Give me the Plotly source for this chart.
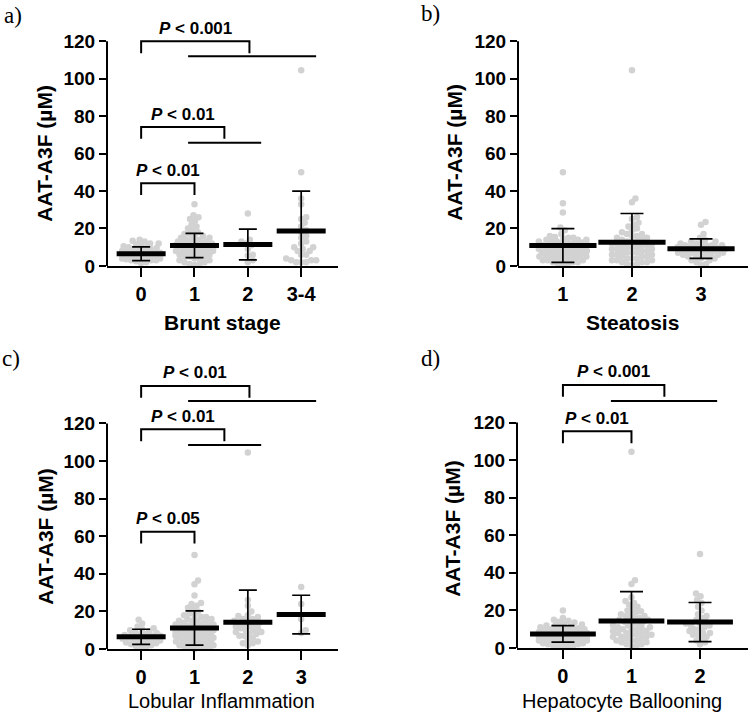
import plotly.graph_objects as go

# ---------------- data ----------------
A_CATS = ["0", "1", "2", "3-4"]
A_G0 = [1.5, 2, 2.5, 3, 3, 3.5, 4, 4, 4.5, 5, 5, 5, 5.5, 5.5, 6, 6, 6, 6.5, 6.5, 7, 7, 7, 7.5, 8, 8,
        8.5, 9, 9, 9.5, 10, 10, 10.5, 11, 11.5, 12, 12, 13, 13.5, 14, 4, 3, 6]
A_G1 = [33, 27, 26, 25, 24, 22, 21, 20, 19, 18, 17, 17, 16, 16, 15, 15, 14, 14, 14, 13, 13, 13, 12, 12,
        12, 12, 11, 11, 11, 11, 10, 10, 10, 10, 9, 9, 9, 9, 8, 8, 8, 8, 7, 7, 7, 6, 6, 6, 5, 5, 5, 4, 4,
        3, 3, 2, 2, 1, 1, 0.5]
A_G2 = [28, 14, 13, 12, 11, 9, 6, 5.5, 3, 2]
A_G3 = [104.5, 50, 36, 33, 26, 25, 23, 21, 19, 18, 16, 15, 13, 12, 10, 10, 9, 8, 8, 6, 6, 4, 3, 3, 3,
        2, 2, 2]
A_MEANS = [6.5, 10.9, 11.4, 18.6]
A_SD = [3.7, 6.5, 8.2, 21.4]

B_CATS = ["1", "2", "3"]
B_G1 = [50, 33.5, 28.5, 20.5, 19, 17, 16, 15, 15, 14, 14, 14, 13, 13, 13, 12, 12, 12, 12, 11, 11, 11,
        11, 10, 10, 10, 10, 10, 9, 9, 9, 9, 8, 8, 8, 8, 7, 7, 7, 7, 6, 6, 6, 6, 5, 5, 5, 5, 4, 4, 4, 4,
        3, 3, 3, 3, 2, 2, 2, 1, 1, 1, 15.5, 14.5, 12.5, 11.5, 9.5, 8.5, 6.5, 5.5]
B_G2 = [104.5, 36, 34, 26, 25, 23, 22, 21, 20, 19, 18, 17, 17, 16, 16, 15, 15, 14, 14, 13, 13, 13, 12,
        12, 12, 11, 11, 11, 10, 10, 10, 9, 9, 9, 8, 8, 8, 7, 7, 7, 6, 6, 6, 5, 5, 5, 4, 4, 4, 3, 3, 3,
        2, 2, 2, 1, 1, 0.5]
B_G3 = [23.5, 22, 17, 15, 14, 13, 13, 12, 12, 12, 11, 11, 11, 11, 10, 10, 10, 10, 10, 9, 9, 9, 9, 9,
        8, 8, 8, 8, 7, 7, 7, 7, 6, 6, 6, 5, 5, 5, 4, 4, 3, 3, 2, 1, 0.5]
B_MEANS = [10.9, 12.6, 9.2]
B_SD = [9.0, 15.4, 5.2]

C_CATS = ["0", "1", "2", "3"]
C_G0 = [15.5, 13.5, 12, 11, 10.5, 10, 9.5, 9, 8.5, 8, 8, 7.5, 7, 7, 7, 6.5, 6.5, 6, 6, 6, 5.5, 5.5, 5,
        5, 4.5, 4, 4, 3.5, 3, 3, 2.5, 2, 1.5, 1, 0.5]
C_G1 = [50, 36.5, 34.5, 28.5, 24.5, 24, 23, 22, 21, 20, 19, 18, 18, 17, 17, 16, 16, 15, 15, 15, 14, 14,
        14, 13, 13, 13, 13, 12, 12, 12, 12, 11, 11, 11, 11, 10, 10, 10, 10, 10, 9, 9, 9, 9, 8, 8, 8, 8,
        8, 7, 7, 7, 7, 6, 6, 6, 6, 5, 5, 5, 5, 4, 4, 4, 4, 3, 3, 3, 3, 2, 2, 2, 1, 1, 1, 0.5, 0.5, 0,
        12.5, 9.5]
C_G2 = [104.5, 26, 23, 20, 18, 17.5, 17, 16, 16, 15, 15, 14, 14, 13, 13, 12, 12, 11, 11, 10, 10, 9, 9,
        8, 8, 7, 7, 6, 5, 4, 3, 3, 2]
C_G3 = [33, 24, 16, 10, 8.5]
C_MEANS = [6.5, 11.2, 14.2, 18.3]
C_SD = [4.0, 9.1, 17.1, 10.3]

D_CATS = ["0", "1", "2"]
D_G0 = [20, 16, 15, 14.5, 14, 13.5, 13, 12.5, 12, 12, 11.5, 11, 11, 10.5, 10.5, 10, 10, 10, 9.5, 9.5,
        9, 9, 9, 8.5, 8.5, 8, 8, 8, 8, 7.5, 7.5, 7.5, 7, 7, 7, 7, 6.5, 6.5, 6.5, 6, 6, 6, 6, 5.5, 5.5,
        5.5, 5, 5, 5, 5, 4.5, 4.5, 4, 4, 4, 3.5, 3.5, 3, 3, 3, 2.5, 2.5, 2, 2, 1.5, 1, 1, 0.5, 0.5]
D_G1 = [104.5, 36, 34, 27, 25, 24, 23, 22, 21, 20, 19.5, 19, 18, 18, 17, 17, 16, 16, 15, 15, 15, 14,
        14, 13, 13, 12, 12, 11, 11, 11, 10, 10, 10, 9, 9, 8, 8, 8, 7, 7, 7, 6, 6, 6, 5, 5, 4, 4, 4, 3,
        3, 2, 2, 1, 1]
D_G2 = [50, 29, 27.5, 25.5, 24, 22, 20, 18, 17, 16, 15, 14, 13, 13, 12, 12, 11, 10, 10, 9, 8, 8, 7, 7,
        6, 5, 4, 3, 2]
D_MEANS = [7.5, 14.3, 13.8]
D_SD = [4.4, 15.7, 10.4]

Y_TICKS = [0, 20, 40, 60, 80, 100, 120]
Y_TITLE = "AAT-A3F (µM)"

# ---------------- layout geometry (pixels) ----------------
W, H = 750, 723
FONT = "Liberation Sans, Arial, sans-serif"


def P(t):
    return "<b><i>P</i> &lt; " + t + "</b>"


panels = [
    dict(label="a)", cats=A_CATS, groups=[A_G0, A_G1, A_G2, A_G3], means=A_MEANS, sd=A_SD,
         xpos=[0, 1, 2, 3], xr=[-0.64, 3.69], px=(107, 338), y0=270, sc=1.9, ytop=130,
         title="Brunt stage", tbold=True, tpos=(222, 327), ytpos=(45, 156), lpos=(13, 16),
         barw=35, capw=9, maxw=19,
         brackets=[(0, 2.03, 120, "0.001", (0.88, 3.28, 112)),
                   (0, 1.56, 74.2, "0.01", (0.88, 2.25, 65.8)),
                   (0, 1.0, 44.2, "0.01", None)]),
    dict(label="b)", cats=B_CATS, groups=[B_G1, B_G2, B_G3], means=B_MEANS, sd=B_SD,
         xpos=[1, 2, 3], xr=[0.35, 3.68], px=(518, 748), y0=270, sc=1.9, ytop=130,
         title="Steatosis", tbold=True, tpos=(632, 327), ytpos=(455, 155), lpos=(430, 14),
         barw=48, capw=11.5, maxw=24, brackets=[]),
    dict(label="c)", cats=C_CATS, groups=[C_G0, C_G1, C_G2, C_G3], means=C_MEANS, sd=C_SD,
         xpos=[0, 1, 2, 3], xr=[-0.64, 3.69], px=(107, 338), y0=659, sc=1.908, ytop=150,
         title="Lobular Inflammation", tbold=False, tpos=(221, 712), ytpos=(46, 545), lpos=(11, 364),
         barw=35, capw=9, maxw=19,
         brackets=[(0, 2.03, 140, "0.01", (0.88, 3.28, 132)),
                   (0, 1.56, 116.9, "0.01", (0.88, 2.25, 108.5)),
                   (0, 1.0, 62.4, "0.05", None)]),
    dict(label="d)", cats=D_CATS, groups=[D_G0, D_G1, D_G2], means=D_MEANS, sd=D_SD,
         xpos=[0, 1, 2], xr=[-0.67, 2.7], px=(517, 748), y0=658, sc=1.908, ytop=150,
         title="Hepatocyte Ballooning", tbold=False, tpos=(622, 712), ytpos=(453, 537), lpos=(430, 364),
         barw=47, capw=11.5, maxw=24,
         brackets=[(0, 1.48, 140, "0.001", (0.70, 2.25, 131.5)),
                   (0, 1.0, 115.3, "0.01", None)]),
]


def swarm(vals, ppx, ppy, diam, maxw):
    """Deterministic beeswarm offsets (in x data units)."""
    idx = sorted(range(len(vals)), key=lambda i: vals[i])
    placed = []
    offs = [0.0] * len(vals)
    cands = [0.0]
    k = 1
    while k * 0.5 <= maxw:
        cands += [k * 0.5, -k * 0.5]
        k += 1
    for i in idx:
        y = vals[i] * ppy
        best, bestd, best_c = None, -1, 0.0
        for c in cands:
            md = min([((c - px) ** 2 + (y - py) ** 2) ** 0.5 for px, py in placed] or [1e9])
            if md >= diam:
                best = c
                break
            if md > bestd:
                bestd, best_c = md, c
        if best is None:
            best = best_c
        placed.append((best, y))
        offs[i] = best / ppx
    return offs


fig = go.Figure()
shapes, annots = [], []
layout_axes = {}

for n, p in enumerate(panels):
    sfx = "" if n == 0 else str(n + 1)
    xa, ya = "x" + sfx, "y" + sfx
    x0px, x1px = p["px"]
    ppx = (x1px - x0px) / (p["xr"][1] - p["xr"][0])
    sc = p["sc"]
    ytop_px = p["y0"] - sc * p["ytop"]

    for j, vals in enumerate(p["groups"]):
        offs = swarm(vals, ppx, sc, 5.0, p["maxw"])
        fig.add_trace(go.Scatter(
            x=[p["xpos"][j] + o for o in offs], y=vals, mode="markers",
            marker=dict(color="#d2d2d2", size=6.5, line=dict(width=0)),
            xaxis=xa, yaxis=ya, cliponaxis=False, showlegend=False, hoverinfo="skip"))
    fig.add_trace(go.Scatter(
        x=p["xpos"], y=p["means"], mode="markers",
        marker=dict(symbol="line-ew", size=p["barw"], color="black", line=dict(width=5, color="black")),
        error_y=dict(type="data", array=p["sd"], visible=True, color="black", thickness=1.7,
                     width=p["capw"]),
        xaxis=xa, yaxis=ya, cliponaxis=True, showlegend=False, hoverinfo="skip"))

    layout_axes["xaxis" + sfx] = dict(
        domain=[x0px / W, x1px / W], range=p["xr"], anchor=ya,
        tickmode="array", tickvals=p["xpos"], ticktext=p["cats"],
        ticks="outside", ticklen=9, tickwidth=2, tickcolor="black",
        showline=True, linewidth=2, linecolor="black", showgrid=False, zeroline=False,
        tickfont=dict(family=FONT, size=20, color="black", weight="bold"))
    layout_axes["yaxis" + sfx] = dict(
        domain=[1 - p["y0"] / H, 1 - ytop_px / H], range=[0, p["ytop"]], anchor=xa,
        tickmode="array", tickvals=Y_TICKS,
        ticks="outside", ticklen=7, tickwidth=2, tickcolor="black",
        showline=False, showgrid=False, zeroline=False,
        tickfont=dict(family=FONT, size=19, color="black", weight="bold"))

    # y axis line only from 0 to 120
    shapes.append(dict(type="line", xref=xa + " domain", yref=ya, x0=0, x1=0, y0=0, y1=120,
                       line=dict(color="black", width=2)))

    # significance brackets
    leg = 12.0 / sc
    for (bx0, bx1, by, txt, ln) in p["brackets"]:
        shapes.append(dict(type="path", xref=xa, yref=ya,
                           path=f"M {bx0},{by - leg} L {bx0},{by} L {bx1},{by} L {bx1},{by - leg}",
                           line=dict(color="black", width=2)))
        if ln is not None:
            shapes.append(dict(type="line", xref=xa, yref=ya, x0=ln[0], x1=ln[1], y0=ln[2], y1=ln[2],
                               line=dict(color="black", width=2)))
        annots.append(dict(text=P(txt), xref=xa, yref=ya, x=(bx0 + bx1) / 2, y=by,
                           xanchor="center", yanchor="middle", yshift=13, showarrow=False,
                           font=dict(family=FONT, size=17, color="black")))

    # axis titles
    annots.append(dict(text=Y_TITLE, xref="paper", yref="paper", x=p["ytpos"][0] / W,
                       y=1 - p["ytpos"][1] / H, xanchor="center", yanchor="middle", textangle=-90,
                       showarrow=False, font=dict(family=FONT, size=21, color="black", weight="bold")))
    annots.append(dict(text=p["title"], xref="paper", yref="paper", x=p["tpos"][0] / W,
                       y=1 - p["tpos"][1] / H, xanchor="center", yanchor="middle", showarrow=False,
                       font=dict(family=FONT, size=21 if p["tbold"] else 20, color="black",
                                 weight="bold" if p["tbold"] else "normal")))
    annots.append(dict(text=p["label"], xref="paper", yref="paper", x=p["lpos"][0] / W,
                       y=1 - p["lpos"][1] / H, xanchor="center", yanchor="middle", showarrow=False,
                       font=dict(family="Liberation Serif, Times New Roman, serif", size=23,
                                 color="black")))

fig.update_layout(width=W, height=H, autosize=False, margin=dict(l=0, r=0, t=0, b=0),
                  paper_bgcolor="white", plot_bgcolor="white", showlegend=False,
                  shapes=shapes, annotations=annots, **layout_axes)

fig.write_html(
    "out.html",
    config={"displayModeBar": False, "responsive": False},
    post_script="document.documentElement.style.margin='0';document.body.style.margin='0';",
)
